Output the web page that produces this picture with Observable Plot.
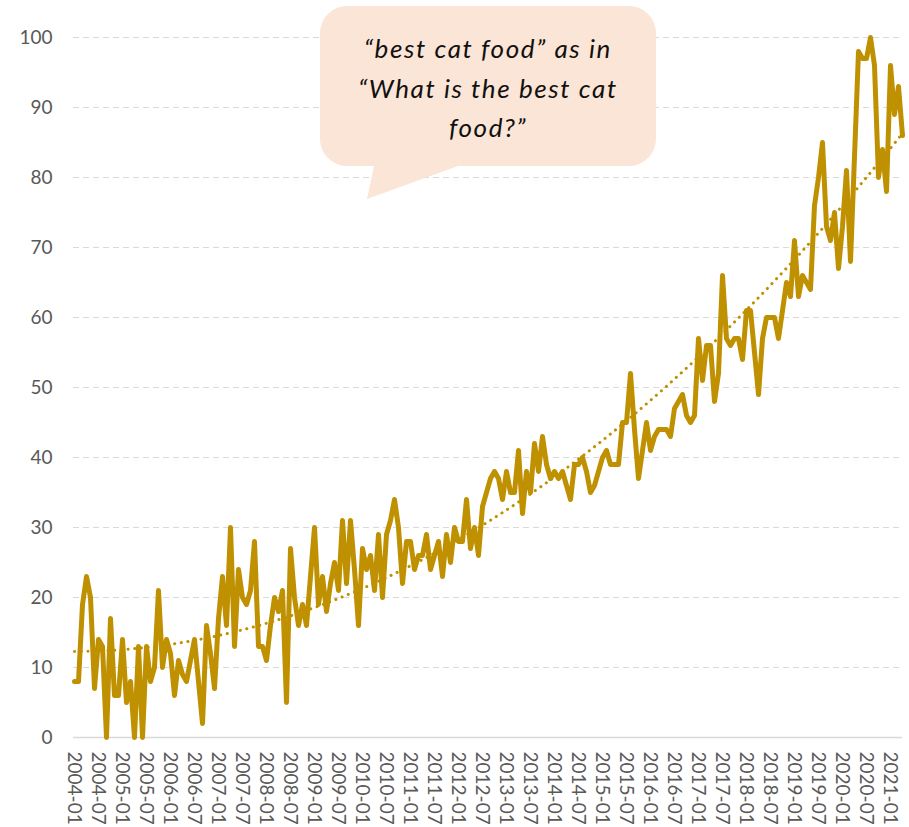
<!DOCTYPE html>
<html><head><meta charset="utf-8">
<script src="https://cdn.jsdelivr.net/npm/d3@7"></script>
<script src="https://cdn.jsdelivr.net/npm/@observablehq/plot@0.6"></script>
<style>
body{margin:0;background:#fff;}
#wrap{position:relative;width:909px;height:827px;overflow:hidden;}
#note{position:absolute;left:0;top:0;pointer-events:none;}
</style></head><body><div id="wrap"></div>
<script>
// Monthly search interest for "best cat food", 2004-01 .. 2021-04
const firstYear = 2004;
const interest = [
  8, 8, 19, 23, 20, 7, 14, 13, 0, 17, 6, 6,
  14, 5, 8, 0, 13, 0, 13, 8, 10, 21, 10, 14,
  12, 6, 11, 9, 8, 11, 14, 8, 2, 16, 12, 7,
  17, 23, 16, 30, 13, 24, 20, 19, 21, 28, 13, 13,
  11, 16, 20, 18, 21, 5, 27, 20, 16, 19, 16, 23,
  30, 19, 23, 18, 22, 25, 21, 31, 22, 31, 24, 16,
  27, 24, 26, 21, 29, 20, 29, 31, 34, 30, 22, 28,
  28, 24, 26, 26, 29, 24, 26, 28, 23, 29, 25, 30,
  28, 28, 34, 27, 30, 26, 33, 35, 37, 38, 37, 34,
  38, 35, 35, 41, 32, 38, 35, 42, 38, 43, 39, 37,
  38, 37, 38, 36, 34, 39, 39, 40, 38, 35, 36, 38,
  40, 41, 39, 39, 39, 45, 45, 52, 44, 37, 41, 45,
  41, 43, 44, 44, 44, 43, 47, 48, 49, 46, 45, 46,
  57, 51, 56, 56, 48, 52, 66, 57, 56, 57, 57, 54,
  61, 61, 55, 49, 57, 60, 60, 60, 57, 61, 65, 63,
  71, 63, 66, 65, 64, 76, 80, 85, 73, 71, 75, 67,
  73, 81, 68, 83, 98, 97, 97, 100, 96, 80, 84, 78,
  96, 89, 93, 86
];
const yTicks = [0, 10, 20, 30, 40, 50, 60, 70, 80, 90, 100];
const noteLines = ["\u201Cbest cat food\u201D as in", "\u201CWhat is the best cat", "food?\u201D"];

const fmt = d3.utcFormat("%Y-%m");
const months = interest.map((_, i) => fmt(new Date(Date.UTC(firstYear, i, 1))));
const xTickLabels = months.filter((m) => m.endsWith("-01") || m.endsWith("-07"));
const data = months.map((m, i) => ({month: m, i, value: interest[i]}));

// Polynomial (order 2) least-squares trendline, as in the original chart
function quadFit(ys) {
  let S = [0,0,0,0,0], T = [0,0,0];
  ys.forEach((y, x) => {
    for (let k = 0; k < 5; k++) S[k] += x ** k;
    for (let k = 0; k < 3; k++) T[k] += y * x ** k;
  });
  const A = [[S[0],S[1],S[2],T[0]],[S[1],S[2],S[3],T[1]],[S[2],S[3],S[4],T[2]]];
  for (let c = 0; c < 3; c++) {
    for (let r = c + 1; r < 3; r++) {
      const f = A[r][c] / A[c][c];
      for (let k = c; k < 4; k++) A[r][k] -= f * A[c][k];
    }
  }
  const b = [0,0,0];
  for (let r = 2; r >= 0; r--) {
    let s = A[r][3];
    for (let k = r + 1; k < 3; k++) s -= A[r][k] * b[k];
    b[r] = s / A[r][r];
  }
  return ys.map((_, x) => b[0] + b[1]*x + b[2]*x*x);
}
const trend = quadFit(interest);
const trendData = months.map((m, i) => ({month: m, value: trend[i]}));

const gold = "#BF9000";

const chart = Plot.plot({
  width: 909,
  height: 827,
  marginTop: 37,
  marginBottom: 90,
  marginLeft: 73,
  marginRight: 7,
  style: {fontFamily: "Lato, 'Open Sans', sans-serif", fontSize: "18px", color: "#595959", background: "#fff"},
  x: {type: "point", domain: months, padding: 0},
  y: {domain: [0, 100]},
  marks: [
    Plot.ruleY(yTicks.filter((d) => d > 0), {stroke: "#D9D9D9", strokeWidth: 1.2, strokeDasharray: "6,4"}),
    Plot.ruleY([0], {stroke: "#D9D9D9", strokeWidth: 1.6}),
    Plot.axisY({ticks: yTicks, tickSize: 0, tickPadding: 21, fontSize: 19, label: null}),
    Plot.axisX({ticks: xTickLabels, tickSize: 0, tickPadding: 14, tickRotate: 90, fontSize: 19, label: null}),
    Plot.line(trendData, {x: "month", y: "value", stroke: gold, strokeWidth: 3, strokeDasharray: "0.1,6.6", strokeLinecap: "round"}),
    Plot.line(data, {x: "month", y: "value", stroke: gold, strokeWidth: 5, strokeLinejoin: "round", strokeLinecap: "round"})
  ]
});

const wrap = document.getElementById("wrap");
wrap.appendChild(chart);

// Speech-bubble annotation
const ns = "http://www.w3.org/2000/svg";
const note = document.createElementNS(ns, "svg");
note.setAttribute("id", "note");
note.setAttribute("width", 909);
note.setAttribute("height", 827);
const r = 27, x0 = 320, x1 = 656, y0 = 6, y1 = 166;
const path = document.createElementNS(ns, "path");
path.setAttribute("d",
  `M${x0 + r},${y0} H${x1 - r} A${r},${r} 0 0 1 ${x1},${y0 + r} V${y1 - r} A${r},${r} 0 0 1 ${x1 - r},${y1}` +
  ` H458 L367,199 L374,${y1} H${x0 + r} A${r},${r} 0 0 1 ${x0},${y1 - r} V${y0 + r} A${r},${r} 0 0 1 ${x0 + r},${y0} Z`);
path.setAttribute("fill", "#FBE5D6");
note.appendChild(path);
noteLines.forEach((t, k) => {
  const tx = document.createElementNS(ns, "text");
  tx.setAttribute("x", 488);
  tx.setAttribute("y", 58 + k * 39.5);
  tx.setAttribute("text-anchor", "middle");
  tx.setAttribute("font-family", "Lato, 'Open Sans', sans-serif");
  tx.setAttribute("font-style", "italic");
  tx.setAttribute("font-size", "26px");
  tx.setAttribute("letter-spacing", "1.6px");
  tx.setAttribute("fill", "#111");
  tx.textContent = t;
  note.appendChild(tx);
});
wrap.appendChild(note);
</script>
</body></html>
